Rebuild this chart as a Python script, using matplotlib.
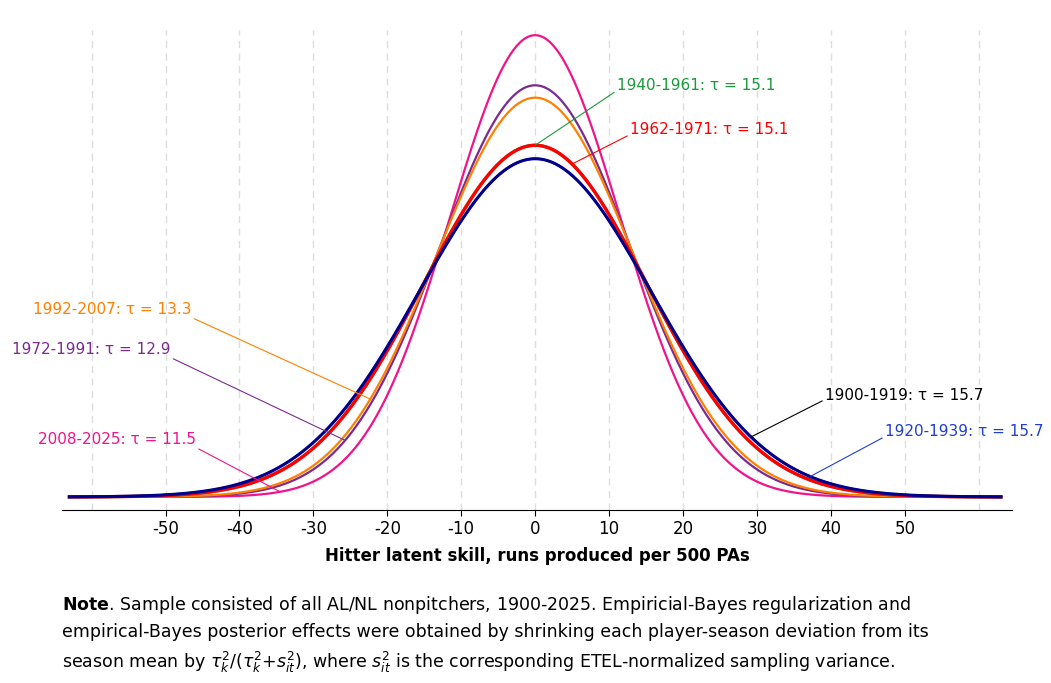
import numpy as np
import matplotlib.pyplot as plt
plt.rcParams['axes.unicode_minus'] = False

# eras, posterior SD (tau) of latent skill, colours
eras = ["1900-1919", "1920-1939", "1940-1961", "1962-1971", "1972-1991", "1992-2007", "2008-2025"]
taus = [15.7, 15.7, 15.1, 15.1, 12.9, 13.3, 11.5]
cols = ["#00008b", "#1f3fd0", "#1a9a3a", "#ff0000", "#7b2a8f", "#ff8000", "#f0148c"]
widths = [2.2, 1.6, 2.2, 2.4, 1.6, 1.6, 1.6]
text_cols = ["black", "#1f3fd0", "#1a9a3a", "#ff0000", "#7b2a8f", "#ff8000", "#f0148c"]
line_cols = ["black", "#1f3fd0", "#1a9a3a", "#ff0000", "#7b2a8f", "#ff8000", "#f0148c"]
# label anchor on curve (x) and text position (figure pixels from top-left)
anchor_x = [29.2, 37.2, 0.0, 5.0, -25.7, -22.3, -34.5]
text_px = [(825, 395), (885, 432), (617, 86), (630, 130), (12, 350), (33, 310), (38, 440)]
rel = [(0, 0.2), (0, 0.2), (0, 0.2), (0, 0.2), (1, 0), (1, 0), (1, 0)]

pdf = lambda x, s: np.exp(-0.5*(x/s)**2)/(np.sqrt(2*np.pi)*s)

fig = plt.figure(figsize=(10.51, 6.83), dpi=100)
ax = fig.add_axes([62/1051, 173/683, 950/1051, 480/683])
X = np.linspace(-63, 63, 800)
for k in [-60, -50, -40, -30, -20, -10, 0, 10, 20, 30, 40, 50, 60]:
    ax.axvline(k, color="#dddddd", ls=(0, (5, 4)), lw=1, zorder=0)
for i in [6, 4, 5, 2, 3, 1, 0]:
    ax.plot(X, pdf(X, taus[i]), color=cols[i], lw=widths[i])
ax.set_xlim(-64, 64.5)
ax.set_ylim(-0.00098, 0.03508)
ax.set_yticks([])
for s in ["left", "right", "top"]:
    ax.spines[s].set_visible(False)
ax.set_xticks([-50, -40, -30, -20, -10, 0, 10, 20, 30, 40, 50])
ax.tick_params(axis="x", labelsize=12, length=4)
ax.set_xlabel("Hitter latent skill, runs produced per 500 PAs", fontsize=12, fontweight="bold", labelpad=6)

for i in range(len(eras)):
    tx, ty = text_px[i]
    ax.annotate(f"{eras[i]}: τ = {taus[i]}", xy=(anchor_x[i], pdf(anchor_x[i], taus[i])),
                xytext=(tx, 683-ty), textcoords="figure pixels", fontsize=11,
                color=text_cols[i], ha="left", va="center",
                arrowprops=dict(arrowstyle="-", color=line_cols[i], lw=0.8,
                                shrinkA=0, shrinkB=0, relpos=rel[i]))

note = (r"$\bf{Note}$. Sample consisted of all AL/NL nonpitchers, 1900-2025. Empiricial-Bayes regularization and" "\n"
        "empirical-Bayes posterior effects were obtained by shrinking each player-season deviation from its\n"
        r"season mean by $\tau_k^2/(\tau_k^2$+$s_{it}^2)$, where $s_{it}^2$ is the corresponding ETEL-normalized sampling variance.")
fig.text(62/1051, 1-594/683, note, fontsize=12.5, va="top", ha="left", linespacing=1.5)

fig.savefig("out.png", dpi=100)
